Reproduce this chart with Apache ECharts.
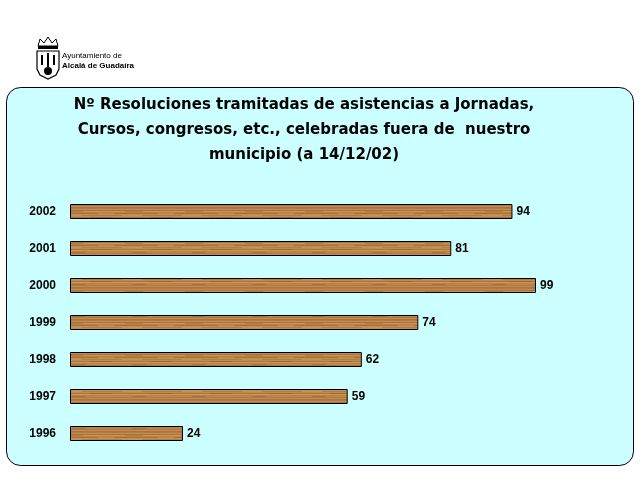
<!DOCTYPE html>
<html>
<head>
<meta charset="utf-8">
<script src="https://cdn.jsdelivr.net/npm/echarts@6/dist/echarts.min.js"></script>
<style>
html, body { margin: 0; padding: 0; background: #ffffff; }
#main { width: 640px; height: 480px; }
</style>
</head>
<body>
<div id="main"></div>
<script>
var years = ['1996', '1997', '1998', '1999', '2000', '2001', '2002'];
var resoluciones = [24, 59, 62, 74, 99, 81, 94];
var titleLines = [
	'Nº Resoluciones tramitadas de asistencias a Jornadas,',
	'Cursos, congresos, etc., celebradas fuera de  nuestro',
	'municipio (a 14/12/02)'
];

// wood-like texture for the bars
function woodPattern() {
	var c = document.createElement('canvas');
	c.width = 60;
	c.height = 16;
	var ctx = c.getContext('2d');
	var tones = ['#b07a42', '#c28c50', '#a8733c', '#c9955a', '#b8834a', '#a56f3a',
		'#c58f54', '#b27d44', '#c18b4f', '#a9743d', '#cb985c', '#b5804a',
		'#bf8a4c', '#ab763f', '#c48f55', '#a9733d'];
	for (var y = 0; y < 16; y++) {
		ctx.fillStyle = tones[y];
		ctx.fillRect(0, y, 60, 1);
	}
	ctx.fillStyle = 'rgba(120,70,30,0.3)';
	ctx.fillRect(5, 3, 18, 1);
	ctx.fillRect(30, 9, 22, 1);
	ctx.fillRect(12, 12, 14, 1);
	ctx.fillStyle = 'rgba(230,185,120,0.35)';
	ctx.fillRect(38, 5, 16, 1);
	ctx.fillRect(2, 7, 20, 1);
	return c;
}

var chartDom = document.getElementById('main');
var myChart = echarts.init(chartDom);
var option;
option = {
	backgroundColor: '#ffffff',
	animation: false,
	graphic: [
		{
			type: 'rect',
			shape: {x: 6.5, y: 87.5, width: 627, height: 378, r: 14},
			style: {fill: '#ccffff', stroke: '#000000', lineWidth: 1},
			z: -10
		},
		{
			type: 'text',
			x: 304,
			y: 93,
			style: {
				text: titleLines.join('\n'),
				font: 'bold 15px "DejaVu Sans", Arial, sans-serif',
				fill: '#000000',
				align: 'center',
				verticalAlign: 'top',
				lineHeight: 25
			}
		},
		// logo: crown and shield
		{
			type: 'group',
			x: 36,
			y: 36,
			children: [
				{type: 'polygon', shape: {points: [[2, 10], [4, 3], [8, 7], [12, 1], [16, 7], [20, 3], [22, 10]]},
					style: {fill: '#ffffff', stroke: '#000', lineWidth: 1}},
				{type: 'rect', shape: {x: 2, y: 10, width: 20, height: 3}, style: {fill: '#000'}},
				{type: 'polygon', shape: {points: [[1, 15], [23, 15], [23, 33], [20, 39], [12, 43], [4, 39], [1, 33]]},
					style: {fill: '#ffffff', stroke: '#000', lineWidth: 1.2}},
				{type: 'rect', shape: {x: 11, y: 17, width: 2, height: 14}, style: {fill: '#000'}},
				{type: 'circle', shape: {cx: 12, cy: 35, r: 4}, style: {fill: '#000'}},
				{type: 'rect', shape: {x: 5, y: 19, width: 2, height: 10}, style: {fill: '#000'}},
				{type: 'rect', shape: {x: 17, y: 19, width: 2, height: 10}, style: {fill: '#000'}}
			]
		},
		{
			type: 'text',
			x: 62,
			y: 52,
			style: {text: 'Ayuntamiento de', font: '8px Arial, sans-serif', fill: '#000'}
		},
		{
			type: 'text',
			x: 62,
			y: 62,
			style: {text: 'Alcalá de Guadaíra', font: 'bold 8px Arial, sans-serif', fill: '#000'}
		}
	],
	grid: {
		left: 70,
		top: 193,
		width: 470.7,
		height: 259
	},
	xAxis: {
		type: 'value',
		min: 0,
		max: 100,
		show: false
	},
	yAxis: {
		type: 'category',
		data: years,
		axisLine: {show: false},
		axisTick: {show: false},
		axisLabel: {
			margin: 14,
			color: '#000',
			fontWeight: 'bold',
			fontSize: 12,
			fontFamily: 'Arial, sans-serif'
		}
	},
	series: [
		{
			name: 'Resoluciones',
			type: 'bar',
			data: resoluciones,
			barWidth: 15,
			itemStyle: {
				color: {image: woodPattern(), repeat: 'repeat'},
				borderColor: '#000000',
				borderWidth: 1
			},
			label: {
				show: true,
				position: 'right',
				distance: 4,
				color: '#000',
				fontWeight: 'bold',
				fontSize: 12,
				fontFamily: 'Arial, sans-serif'
			}
		}
	]
};

option && myChart.setOption(option);
</script>
</body>
</html>
